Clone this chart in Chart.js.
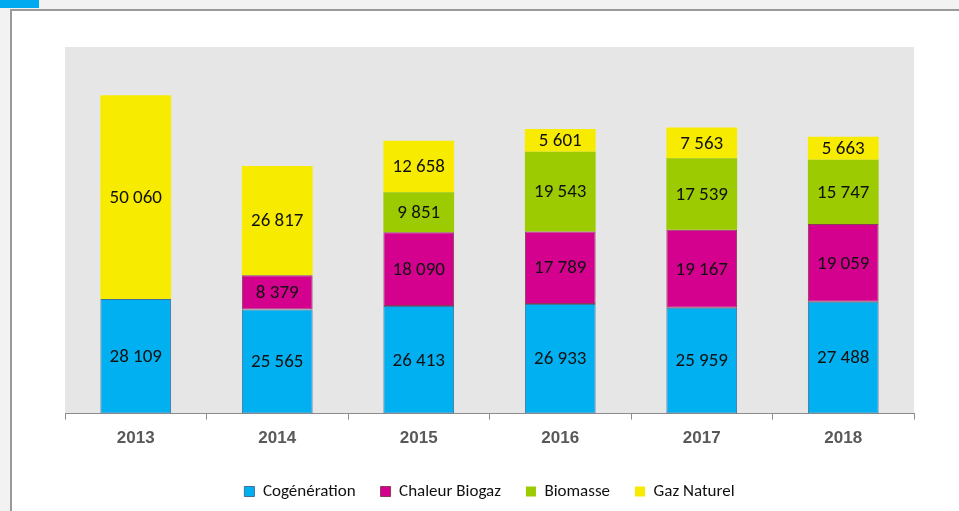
<!DOCTYPE html>
<html lang="fr">
<head>
  <meta charset="UTF-8">
  <title>Production de chaleur par énergie</title>
  <style>
    html, body { margin: 0; padding: 0; }
    body { width: 959px; height: 511px; background: #f2f2f2; position: relative; overflow: hidden; }
    .tag { position: absolute; left: 0; top: 0; width: 39px; height: 8px; background: #00aaf0; }
    .frame { position: absolute; left: 10px; top: 9px; width: 980px; height: 540px; background: #fff; border: 2px solid #9a9a9a; box-sizing: border-box; }
    canvas { position: absolute; left: 0; top: 0; }
  </style>
</head>
<body>
  <div class="tag"></div>
  <div class="frame"></div>
  <canvas id="chaleurChart" width="959" height="511"></canvas>

  <script src="https://cdn.jsdelivr.net/npm/chart.js"></script>
  <script>
    const annees = ['2013', '2014', '2015', '2016', '2017', '2018'];
    const cogeneration = [28109, 25565, 26413, 26933, 25959, 27488];
    const chaleurBiogaz = [0, 8379, 18090, 17789, 19167, 19059];
    const biomasse = [0, 0, 9851, 19543, 17539, 15747];
    const gazNaturel = [50060, 26817, 12658, 5601, 7563, 5663];

    const fmt = (v) => String(v).replace(/\B(?=(\d{3})+(?!\d))/g, ' ');

    // fond gris de la zone de tracé
    const fondGris = {
      id: 'fondGris',
      beforeDraw(chart) {
        const { ctx, chartArea: a } = chart;
        ctx.save();
        ctx.fillStyle = '#e6e6e6';
        ctx.fillRect(a.left, a.top, a.right - a.left, a.bottom - a.top);
        ctx.restore();
      }
    };

    // étiquettes de valeurs au centre des segments
    const etiquettes = {
      id: 'etiquettes',
      afterDatasetsDraw(chart) {
        const ctx = chart.ctx;
        ctx.save();
        ctx.font = '19px Carlito, "Liberation Sans Narrow", "Open Sans", sans-serif';
        ctx.fillStyle = '#111';
        ctx.textAlign = 'center';
        ctx.textBaseline = 'middle';
        chart.data.datasets.forEach((ds, i) => {
          chart.getDatasetMeta(i).data.forEach((bar, j) => {
            const v = ds.data[j];
            if (!v) return;
            ctx.fillText(fmt(v), bar.x, (bar.y + bar.base) / 2 + 1);
          });
        });
        ctx.restore();
      }
    };

    const serie = (label, data, bg, border, bw) => ({
      label,
      data,
      backgroundColor: bg,
      borderColor: border,
      borderWidth: bw,
      borderSkipped: false,
      categoryPercentage: 1,
      barPercentage: 0.5
    });

    new Chart(document.getElementById('chaleurChart'), {
      type: 'bar',
      data: {
        labels: annees,
        datasets: [
          serie('Cogénération', cogeneration, '#00b0f0', '#41719c', 1),
          serie('Chaleur Biogaz', chaleurBiogaz, '#d4008e', '#8b3a5a', 1),
          serie('Biomasse', biomasse, '#9bcb00', '#9bcb00', 0),
          serie('Gaz Naturel', gazNaturel, '#f7ec00', '#f7ec00', 0)
        ]
      },
      options: {
        responsive: false,
        animation: false,
        layout: { padding: { left: 65, right: 45, top: 47, bottom: 1 } },
        plugins: {
          tooltip: { enabled: false },
          legend: {
            position: 'bottom',
            labels: {
              boxWidth: 10,
              boxHeight: 10,
              padding: 25,
              color: '#111',
              font: { family: 'Carlito, "Liberation Sans Narrow", "Open Sans", sans-serif', size: 17 }
            }
          }
        },
        scales: {
          x: {
            stacked: true,
            border: { display: true, color: '#8c8c8c', width: 1 },
            grid: { display: true, drawOnChartArea: false, drawTicks: true, tickLength: 6, color: '#8c8c8c', offset: true },
            ticks: {
              color: '#595959',
              padding: 9,
              font: { family: '"Liberation Sans", Arial, sans-serif', size: 17, weight: 'bold' }
            }
          },
          y: {
            stacked: true,
            display: false,
            min: 0,
            max: 90000
          }
        }
      },
      plugins: [fondGris, etiquettes]
    });
  </script>
</body>
</html>
